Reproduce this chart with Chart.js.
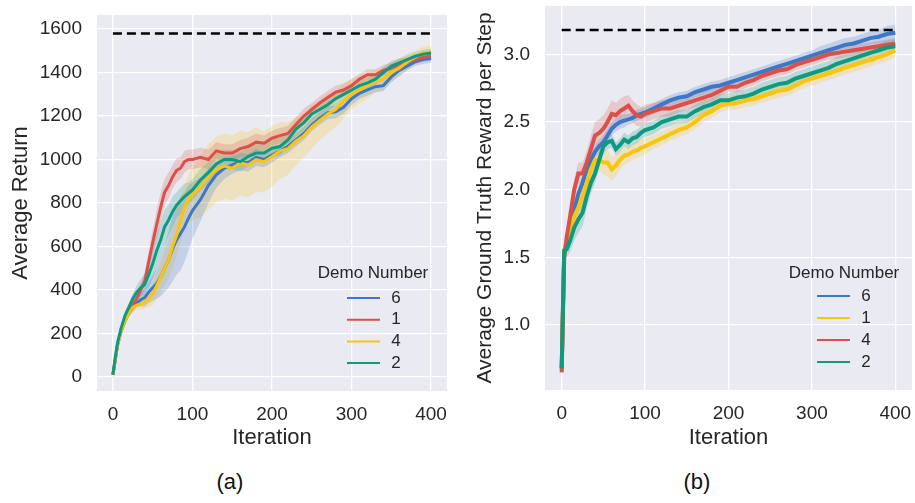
<!DOCTYPE html>
<html>
<head>
<title>Demo Number curves</title>
<script src="https://cdn.jsdelivr.net/npm/chart.js"></script>
<style>
  body { margin: 0; background: #fff; width: 915px; height: 503px; position: relative; overflow: hidden;
         font-family: "Liberation Sans", Arial, sans-serif; }
  .panel { position: absolute; top: 0; }
  .cap { position: absolute; top: 468px; font-size: 22px; color: #111; width: 60px; margin-left: -30px;
         text-align: center; line-height: 28px; }
</style>
</head>
<body>
<div class="panel" style="left:0px"><canvas id="chartA" width="460" height="455"></canvas></div>
<div class="panel" style="left:460px"><canvas id="chartB" width="455" height="455"></canvas></div>
<div class="cap" style="left:230px">(a)</div>
<div class="cap" style="left:697px">(b)</div>

<script>
var iters = [0,3,6,10,15,20,25,30,35,40,45,50,55,60,65,70,75,80,85,90,95,100,
  110,120,130,140,150,160,170,180,190,200,210,220,230,240,250,260,270,280,290,300,
  310,320,330,340,350,360,370,380,390,400];
var xTicks = [0, 100, 200, 300, 400];
var demoLabels = ["6", "1", "4", "2"];

// ---- panel (a): average return ----
var yTicksA = [0, 200, 400, 600, 800, 1000, 1200, 1400, 1600];
var bestA = 1580;
var returnDemo6 = [10,80,150,205,255,295,320,340,355,365,390,410,430,460,500,540,590,630,660,690,730,765,
  815,880,930,960,975,990,985,1010,1000,1020,1040,1060,1090,1120,1160,1190,1215,1220,1240,1280,
  1305,1320,1335,1340,1380,1410,1430,1450,1460,1465];
var returnDemo1 = [10,80,150,210,260,300,330,360,400,440,530,617,700,780,850,880,920,950,960,990,1000,1000,
  1010,1000,1040,1030,1030,1050,1060,1080,1075,1098,1110,1120,1160,1200,1230,1260,1285,1310,1320,1340,
  1370,1390,1390,1410,1420,1440,1450,1460,1470,1475];
var returnDemo4 = [10,80,150,205,255,295,320,330,335,345,360,380,420,460,500,540,600,650,720,780,820,840,
  874,920,955,970,960,985,975,1000,990,1014,1040,1050,1085,1110,1150,1180,1210,1230,1270,1300,
  1320,1340,1360,1370,1400,1420,1450,1470,1490,1495];
var returnDemo2 = [10,90,160,220,280,320,360,390,410,425,470,520,580,630,690,722,760,790,810,830,845,860,
  906,940,980,1000,1000,990,1014,1030,1030,1052,1060,1090,1140,1170,1210,1230,1252,1280,1300,1320,
  1340,1353,1370,1400,1430,1445,1460,1475,1485,1490];
// half widths of the shaded bands
var returnBand6 = [5,10,15,15,20,20,20,20,30,40,50,60,70,90,110,130,150,160,170,160,150,130,
  100,80,60,50,40,40,40,40,35,35,30,30,30,30,30,30,30,30,30,30,25,25,25,25,25,25,20,20,20,20];
var returnBand1 = [5,10,15,15,20,20,20,25,30,40,50,60,70,70,60,60,55,55,50,50,45,45,
  45,45,40,40,40,40,40,40,35,35,35,35,35,35,30,30,30,30,30,30,25,25,25,25,25,25,20,20,20,20];
var returnBand4 = [5,10,15,15,20,20,20,20,25,30,40,50,60,70,80,90,100,100,100,100,110,120,
  140,150,150,150,150,150,150,150,140,140,130,120,110,100,100,90,90,80,80,70,60,60,50,50,40,40,40,30,30,30];
var returnBand2 = [5,10,15,15,20,20,25,30,40,50,60,70,80,80,80,70,70,60,60,60,50,50,
  50,50,50,45,45,45,45,40,40,40,40,40,35,35,35,30,30,30,30,30,25,25,25,25,25,20,20,20,20,20];

// ---- panel (b): average ground truth reward per step ----
var yTicksB = [1.0, 1.5, 2.0, 2.5, 3.0];
var bestB = 3.18;
var rewardDemo6 = [0.68,1.55,1.60,1.72,1.85,1.97,2.05,2.15,2.22,2.28,2.32,2.35,2.40,2.45,2.48,2.50,2.51,2.52,2.53,2.55,2.56,2.57,
  2.60,2.63,2.66,2.68,2.69,2.72,2.74,2.76,2.77,2.79,2.81,2.83,2.85,2.87,2.89,2.91,2.93,2.95,2.97,2.99,
  3.01,3.03,3.05,3.07,3.08,3.10,3.12,3.13,3.15,3.16];
var rewardDemo1 = [0.68,1.55,1.62,1.70,1.80,1.87,1.95,2.05,2.15,2.22,2.22,2.20,2.20,2.15,2.18,2.22,2.25,2.26,2.28,2.29,2.31,2.32,
  2.35,2.38,2.41,2.44,2.46,2.50,2.55,2.58,2.62,2.64,2.64,2.66,2.67,2.69,2.71,2.73,2.74,2.77,2.80,2.82,
  2.84,2.86,2.88,2.90,2.92,2.94,2.96,2.98,3.00,3.03];
var rewardDemo4 = [0.65,1.50,1.65,1.80,2.00,2.12,2.12,2.20,2.30,2.40,2.42,2.45,2.50,2.56,2.55,2.58,2.60,2.62,2.58,2.55,2.54,2.56,
  2.58,2.60,2.60,2.62,2.64,2.66,2.68,2.70,2.73,2.76,2.76,2.79,2.81,2.84,2.86,2.88,2.89,2.92,2.94,2.96,
  2.98,3.00,3.01,3.02,3.03,3.04,3.05,3.06,3.07,3.08];
var rewardDemo2 = [0.68,1.55,1.56,1.62,1.72,1.78,1.83,1.95,2.05,2.12,2.22,2.32,2.35,2.36,2.30,2.33,2.37,2.35,2.38,2.39,2.42,2.44,
  2.46,2.50,2.52,2.54,2.54,2.58,2.61,2.63,2.66,2.66,2.68,2.69,2.71,2.74,2.76,2.78,2.79,2.82,2.84,2.86,
  2.88,2.90,2.93,2.95,2.97,2.99,3.01,3.03,3.05,3.06];
var rewardBand6 = [0.02,0.05,0.06,0.06,0.06,0.05,0.05,0.05,0.05,0.05,0.05,0.05,0.05,0.05,0.05,0.05,0.05,0.04,0.04,0.04,0.04,0.04,
  0.04,0.04,0.04,0.04,0.04,0.04,0.04,0.04,0.04,0.04,0.04,0.04,0.04,0.04,0.04,0.04,0.04,0.04,0.04,0.04,
  0.05,0.05,0.05,0.05,0.05,0.05,0.05,0.05,0.06,0.06];
var rewardBand1 = [0.02,0.04,0.05,0.05,0.06,0.06,0.06,0.07,0.07,0.08,0.08,0.09,0.10,0.09,0.08,0.07,0.07,0.06,0.06,0.06,0.06,0.06,
  0.05,0.05,0.05,0.05,0.05,0.05,0.05,0.05,0.05,0.05,0.05,0.05,0.05,0.05,0.05,0.05,0.05,0.05,0.05,0.05,
  0.05,0.05,0.05,0.05,0.05,0.05,0.05,0.05,0.05,0.05];
var rewardBand4 = [0.02,0.05,0.06,0.07,0.08,0.08,0.08,0.09,0.10,0.10,0.10,0.10,0.10,0.10,0.09,0.09,0.09,0.08,0.08,0.08,0.07,0.07,
  0.06,0.06,0.06,0.05,0.05,0.05,0.05,0.05,0.04,0.04,0.04,0.04,0.04,0.04,0.04,0.04,0.04,0.04,0.04,0.04,
  0.04,0.04,0.04,0.04,0.04,0.04,0.04,0.04,0.04,0.04];
var rewardBand2 = [0.02,0.04,0.06,0.08,0.10,0.10,0.10,0.09,0.08,0.07,0.06,0.06,0.05,0.05,0.05,0.05,0.05,0.05,0.05,0.05,0.05,0.05,
  0.05,0.05,0.05,0.05,0.05,0.05,0.05,0.05,0.05,0.05,0.05,0.05,0.05,0.05,0.05,0.05,0.05,0.05,0.05,0.05,
  0.05,0.05,0.05,0.05,0.05,0.05,0.05,0.05,0.05,0.05];

var BLUE = "#3d78c6", RED = "#db5149", YELLOW = "#fbc40d", GREEN = "#0f9a80";
var FONT = "'Liberation Sans', Arial, sans-serif";
var TXT = "#262626";

function rgba(hex, a) {
  var n = parseInt(hex.slice(1), 16);
  return "rgba(" + (n >> 16) + "," + ((n >> 8) & 255) + "," + (n & 255) + "," + a + ")";
}

// grey plot background like seaborn darkgrid
var plotBg = {
  id: "plotBg",
  beforeDraw: function (chart) {
    var a = chart.chartArea, c = chart.ctx;
    c.save();
    c.fillStyle = "#eaeaf2";
    c.fillRect(a.left, a.top, a.right - a.left, a.bottom - a.top);
    c.restore();
  }
};

// legend with title, drawn inside the axes
var demoLegend = {
  id: "demoLegend",
  afterDraw: function (chart) {
    var o = chart.options.plugins.demoLegend, c = chart.ctx;
    var items = chart.data.datasets.filter(function (d) { return d.isSeries; });
    c.save();
    c.fillStyle = TXT;
    c.textBaseline = "middle";
    c.textAlign = "center";
    c.font = "17px " + FONT;
    c.fillText("Demo Number", o.titleX, o.titleY);
    items.forEach(function (d, i) {
      var y = o.rowY + i * o.rowGap;
      c.strokeStyle = d.borderColor;
      c.lineWidth = 2;
      c.beginPath();
      c.moveTo(o.lineX1, y);
      c.lineTo(o.lineX2, y);
      c.stroke();
      c.fillText(d.label, o.labelX, y);
    });
    c.restore();
  }
};

function makeChart(id, cfg) {
  var datasets = [];
  cfg.means.forEach(function (m, i) {
    var band = cfg.bands[i];
    datasets.push({
      label: "lo", data: iters.map(function (x, k) { return { x: x, y: m[k] - band[k] }; }),
      borderWidth: 0, borderColor: "transparent", pointRadius: 0, fill: false, order: 20 + i
    });
    datasets.push({
      label: "hi", data: iters.map(function (x, k) { return { x: x, y: m[k] + band[k] }; }),
      borderWidth: 0, borderColor: "transparent", pointRadius: 0, fill: "-1",
      backgroundColor: rgba(cfg.colors[i], 0.22), order: 20 + i
    });
  });
  cfg.means.forEach(function (m, i) {
    datasets.push({
      label: demoLabels[i], isSeries: true,
      data: iters.map(function (x, k) { return { x: x, y: m[k] }; }),
      borderColor: cfg.colors[i], borderWidth: cfg.lineW, pointRadius: 0, fill: false,
      order: 4 - i
    });
  });
  datasets.push({
    label: "best", data: [{ x: 0, y: cfg.best }, { x: 400, y: cfg.best }],
    borderColor: "#000", borderWidth: 2.5, borderDash: [9, 5], pointRadius: 0, fill: false, order: 0
  });

  return new Chart(document.getElementById(id), {
    type: "line",
    data: { datasets: datasets },
    plugins: [plotBg, demoLegend],
    options: {
      responsive: false,
      animation: false,
      events: [],
      layout: { padding: { top: cfg.padTop, right: cfg.padRight, left: 0, bottom: 0 } },
      plugins: {
        legend: { display: false },
        tooltip: { enabled: false },
        demoLegend: cfg.legend
      },
      scales: {
        x: {
          type: "linear", min: -20, max: 420,
          afterBuildTicks: function (s) { s.ticks = xTicks.map(function (v) { return { value: v }; }); },
          afterFit: function (s) { s.height = cfg.xAxisH; s.paddingLeft = 0; s.paddingRight = 0; },
          ticks: { font: { size: 19, family: FONT }, color: TXT, padding: 12 },
          grid: { color: "#ffffff", lineWidth: 1.3, drawTicks: false },
          border: { display: false },
          title: { display: true, text: "Iteration", color: TXT, font: { size: 22, family: FONT },
                   padding: { top: 0, bottom: 4 } }
        },
        y: {
          type: "linear", min: cfg.yMin, max: cfg.yMax,
          afterBuildTicks: function (s) { s.ticks = cfg.yTicks.map(function (v) { return { value: v }; }); },
          afterFit: function (s) { s.width = cfg.yAxisW; s.paddingTop = 0; s.paddingBottom = 0; },
          ticks: { font: { size: 19, family: FONT }, color: TXT, padding: 15,
                   callback: function (v) { return cfg.decimals ? v.toFixed(1) : String(v); } },
          grid: { color: "#ffffff", lineWidth: 1.3, drawTicks: false },
          border: { display: false },
          title: { display: true, text: cfg.yTitle, color: TXT, font: { size: cfg.yTitleSize, family: FONT },
                   padding: { top: cfg.yTitlePad, bottom: 0 } }
        }
      }
    }
  });
}

makeChart("chartA", {
  means: [returnDemo6, returnDemo1, returnDemo4, returnDemo2],
  bands: [returnBand6, returnBand1, returnBand4, returnBand2],
  colors: [BLUE, RED, YELLOW, GREEN],
  best: bestA, yTicks: yTicksA, yMin: -65, yMax: 1665, decimals: false,
  yTitle: "Average Return", yTitleSize: 22, yTitlePad: 8, lineW: 3,
  padTop: 15, padRight: 13, yAxisW: 97, xAxisH: 64,
  legend: { titleX: 373, titleY: 273, lineX1: 347, lineX2: 380, labelX: 396, rowY: 298, rowGap: 21.7 }
});

makeChart("chartB", {
  means: [rewardDemo6, rewardDemo1, rewardDemo4, rewardDemo2],
  bands: [rewardBand6, rewardBand1, rewardBand4, rewardBand2],
  colors: [BLUE, YELLOW, RED, GREEN],
  best: bestB, yTicks: yTicksB, yMin: 0.52, yMax: 3.357, decimals: true,
  yTitle: "Average Ground Truth Reward per Step", yTitleSize: 21, yTitlePad: 13, lineW: 4,
  padTop: 6, padRight: 3, yAxisW: 85, xAxisH: 65,
  legend: { titleX: 384, titleY: 273, lineX1: 357, lineX2: 390, labelX: 406, rowY: 296, rowGap: 22 }
});
</script>
</body>
</html>
